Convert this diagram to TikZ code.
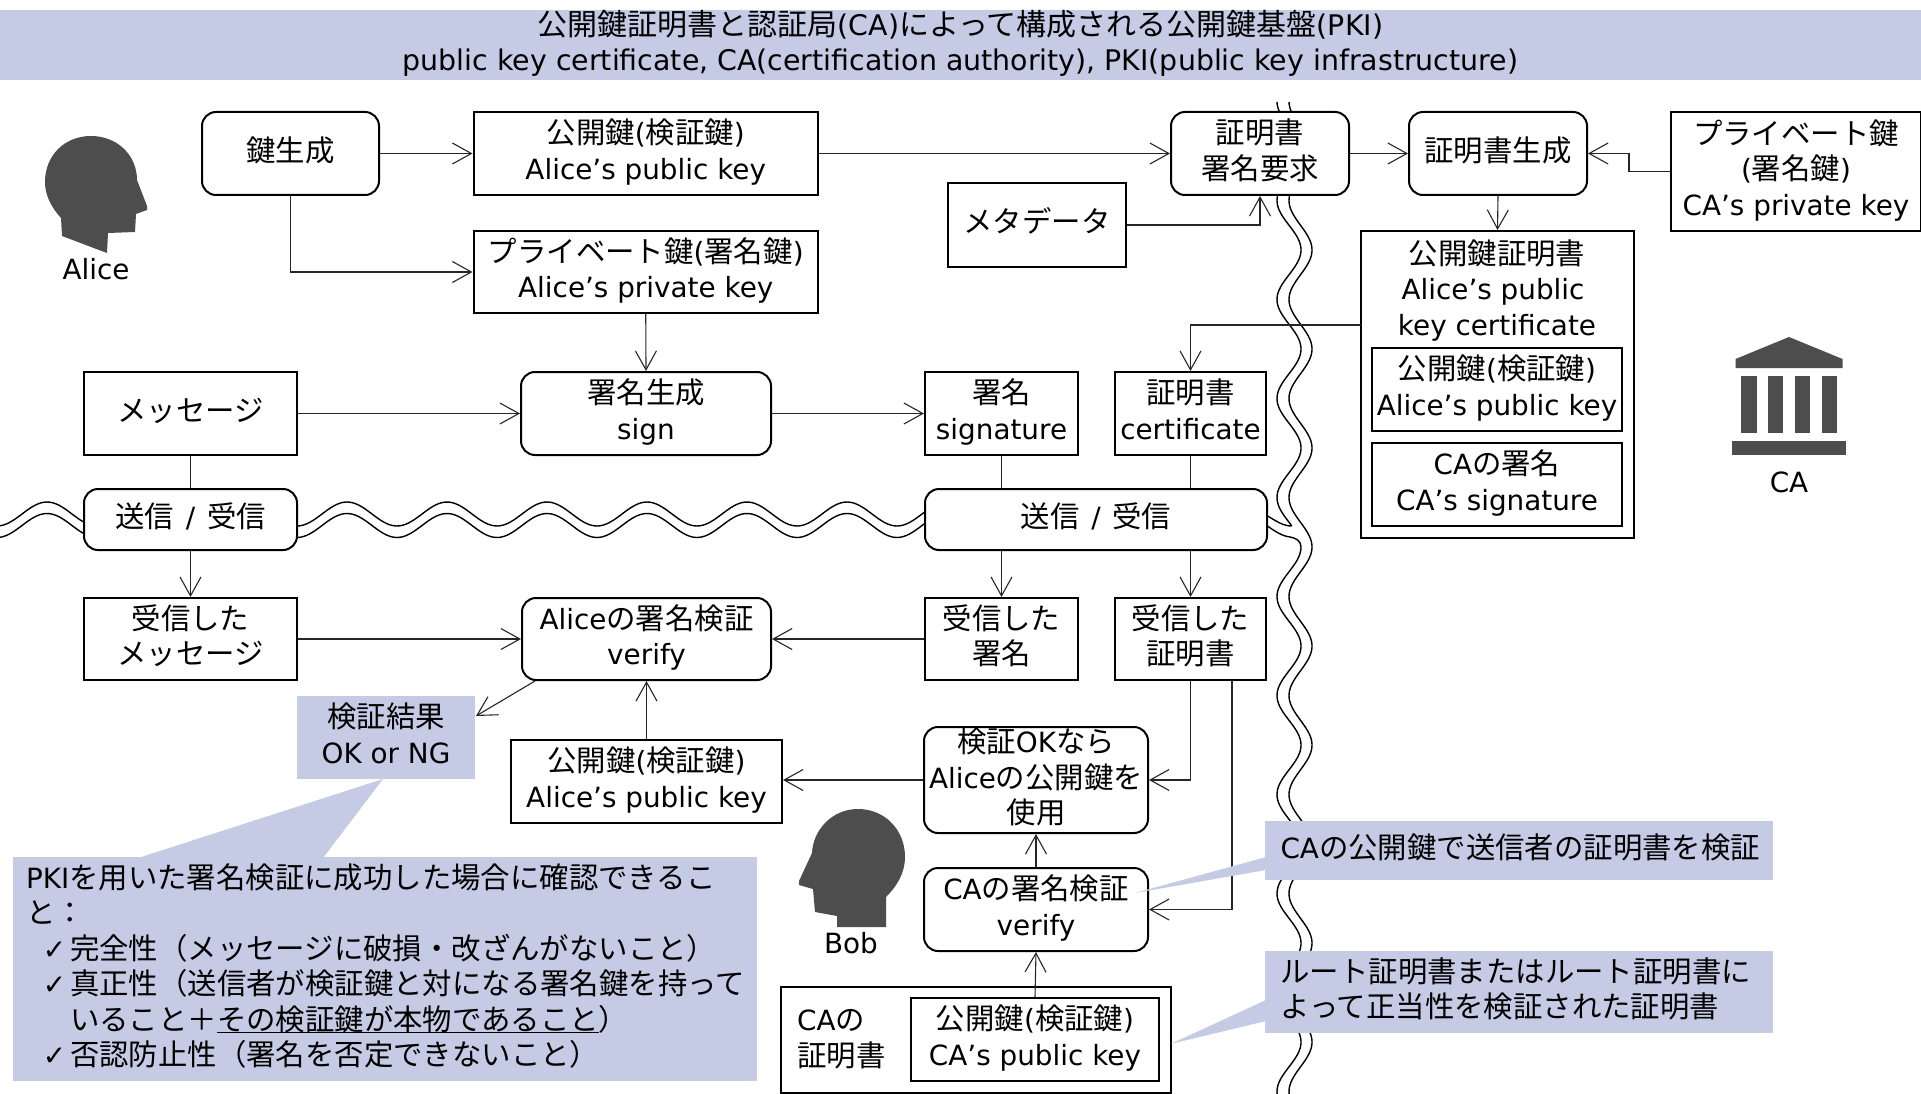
\documentclass[tikz,border=0pt]{standalone}
\usepackage{fontspec}
\setmainfont[Scale=0.947]{DejaVu Sans}
\newfontfamily\jpfont{Noto Sans CJK JP}
\usetikzlibrary{arrows.meta}
\definecolor{band}{HTML}{C6CBE5}
\definecolor{icon}{HTML}{4D4D4D}
\newcommand{\J}[1]{{\jpfont #1}}
\newcommand{\Ln}[1]{\rule[-6pt]{0pt}{28pt}\smash{#1}}
\tikzset{
  every node/.style={font=\fontsize{29.4}{35.5}\selectfont,inner sep=0pt,align=center},
  wh/.style 2 args={minimum width=#1pt,minimum height=#2pt},
  pbox/.style={draw=black,fill=white,line width=2pt,rectangle},
  rbox/.style={pbox,rounded corners=14pt},
  note/.style={fill=band,rectangle},
  conn/.style={line width=1.1pt,draw=black!85},
  arr/.style={conn,-{Straight Barb[length=19pt,width=21pt,line width=1.1pt]}},
  wave/.style={line width=1.4pt,draw=black}
}
\begin{document}
\begin{tikzpicture}[x=1pt,y=-1pt]
\useasboundingbox (0,0) rectangle (1921,1094);
% network boundaries
\draw[wave] plot[domain=0:925,samples=300] (\x,{514-12*cos(3.6*(\x-47))});
\draw[wave] plot[domain=0:925,samples=300] (\x,{525.5-12*cos(3.6*(\x-47))});
\draw[wave] plot[domain=102:526,samples=200] ({1289+12*cos(3.636*(\x-250))},\x);
\draw[wave] plot[domain=547:1094,samples=250] ({1289+12*cos(3.636*(\x-250))},\x);
\draw[wave] plot[domain=102:1094,samples=450] ({1300.5+11.5*cos(3.636*(\x-250))},\x);
\coordinate (w1a) at (1266,515); \coordinate (w1b) at (1291.5,526);
\coordinate (w2a) at (1266,525); \coordinate (w2b) at (1301,547);
\draw[wave] (w1a) .. controls (1276,521) and (1283,526) .. (w1b);
\draw[wave] (w2a) .. controls (1276,532) and (1282,536) .. (1290,537) .. controls (1296,538) and (1301,541) .. (w2b);
% title band
\node[note,wh={1921}{70},font=\fontsize{30}{35.5}\selectfont] (title) at (960.5,45) {\Ln{\J{公開鍵証明書と認証局}(CA)\J{によって構成される公開鍵基盤}(PKI)}\\\Ln{public key certificate, CA(certification authority), PKI(public key infrastructure)}};
% Alice side, top
\node[rbox,wh={177}{83}] (kg) at (290.5,153.5) {\Ln{\J{鍵生成}}};
\node[pbox,wh={344.5}{83}] (pub1) at (645.75,153.5) {\Ln{\J{公開鍵}(\J{検証鍵})}\\\Ln{Alice’s public key}};
\node[pbox,wh={344.5}{82}] (priv) at (645.75,272) {\Ln{\J{プライベート鍵}(\J{署名鍵})}\\\Ln{Alice’s private key}};
\node[pbox,wh={213}{83}] (msg) at (190.5,413.5) {\Ln{\J{メッセージ}}};
\node[rbox,wh={250}{83}] (sign) at (646,413.5) {\Ln{\J{署名生成}}\\\Ln{sign}};
\node[pbox,wh={153}{83}] (sig) at (1001.5,413.5) {\Ln{\J{署名}}\\\Ln{signature}};
\node[pbox,wh={151}{83}] (cert) at (1190.5,413.5) {\Ln{\J{証明書}}\\\Ln{certificate}};
\node[rbox,wh={213}{61}] (send1) at (190.5,519.5) {\Ln{\J{送信}\hspace{3pt} / \hspace{3pt}\J{受信}}};
\node[rbox,wh={342}{61}] (send2) at (1096,519.5) {\Ln{\J{送信}\hspace{3pt} / \hspace{3pt}\J{受信}}};
\node[pbox,wh={213}{82}] (rcvmsg) at (190.5,639) {\Ln{\J{受信した}}\\\Ln{\J{メッセージ}}};
\node[rbox,wh={249}{82}] (verify) at (646.5,639) {\Ln{Alice\J{の署名検証}}\\\Ln{verify}};
\node[pbox,wh={153}{82}] (rcvsig) at (1001.5,639) {\Ln{\J{受信した}}\\\Ln{\J{署名}}};
\node[pbox,wh={151}{82}] (rcvcert) at (1190.5,639) {\Ln{\J{受信した}}\\\Ln{\J{証明書}}};
\node[note,wh={178}{83}] (result) at (386,737.5) {\Ln{\J{検証結果}}\\\Ln{OK or NG}};
\node[pbox,wh={271}{83}] (pub2) at (646.5,781.5) {\Ln{\J{公開鍵}(\J{検証鍵})}\\\Ln{Alice’s public key}};
\node[rbox,wh={224}{106}] (ok) at (1036,780) {\Ln{\J{検証}OK\J{なら}}\\\Ln{Alice\J{の公開鍵を}}\\\Ln{\J{使用}}};
\node[rbox,wh={224}{83}] (cav) at (1036,909.5) {\Ln{CA\J{の署名検証}}\\\Ln{verify}};
\node[pbox,wh={390}{106}] (cacert) at (976,1040) {};
\node[anchor=west,align=left] (cacertl) at (797,1040.5) {\Ln{CA\J{の}}\\\Ln{\J{証明書}}};
\node[pbox,wh={248}{83}] (capub) at (1035,1039.5) {\Ln{\J{公開鍵}(\J{検証鍵})}\\\Ln{CA’s public key}};
% CA side
\node[rbox,wh={178}{83}] (csr) at (1260,153.5) {\Ln{\J{証明書}}\\\Ln{\J{署名要求}}};
\node[rbox,wh={178}{83}] (cg) at (1498,153.5) {\Ln{\J{証明書生成}}};
\node[pbox,wh={250}{119}] (capriv) at (1796,171.5) {\Ln{\J{プライベート鍵}}\\\Ln{(\J{署名鍵})}\\\Ln{CA’s private key}};
\node[pbox,wh={178}{83}] (meta) at (1037,225) {\Ln{\J{メタデータ}}};
\node[pbox,wh={273}{307}] (pkcert) at (1497.5,384.5) {};
\node (pkcertl) at (1497,291.6) {\Ln{\J{公開鍵証明書}}\\\Ln{Alice’s public\hspace{8pt}}\\\Ln{key certificate}};
\node[pbox,wh={249.5}{83}] (inpub) at (1497,389.5) {\Ln{\J{公開鍵}(\J{検証鍵})}\\\Ln{Alice’s public key}};
\node[pbox,wh={249.5}{83}] (insig) at (1497,484.5) {\Ln{CA\J{の署名}}\\\Ln{CA’s signature}};
% named free ends
\coordinate (vr) at (535,681);
\coordinate (rs) at (476,716);
\coordinate (cx) at (1232,680);
\coordinate (pkc) at (1361,325);
\coordinate (cp) at (1629,171.5);
% connectors
\draw[arr] (kg.east) -- (pub1.west);
\draw[arr] (kg.south) |- (priv.west);
\draw[arr] (priv.south) -- (sign.north);
\draw[arr] (msg.east) -- (sign.west);
\draw[arr] (sign.east) -- (sig.west);
\draw[conn] (msg.south) -- (send1.north);
\draw[arr] (send1.south) -- (rcvmsg.north);
\draw[conn] (sig.south) -- (sig.south |- send2.north);
\draw[conn] (cert.south) -- (cert.south |- send2.north);
\draw[arr] (rcvsig.north |- send2.south) -- (rcvsig.north);
\draw[arr] (rcvcert.north |- send2.south) -- (rcvcert.north);
\draw[arr] (rcvmsg.east) -- (verify.west);
\draw[arr] (rcvsig.west) -- (verify.east);
\draw[arr] (vr) -- (rs);
\draw[arr] (pub2.north) -- (verify.south);
\draw[arr] (ok.west) -- (ok.west -| pub2.east);
\draw[arr] (rcvcert.south) |- (ok.east);
\draw[arr] (cx) |- (cav.east);
\draw[arr] (cav.north) -- (ok.south);
\draw[arr] (capub.north) -- (cav.south);
\draw[arr] (pub1.east) -- (csr.west);
\draw[arr] (meta.east) -| (csr.south);
\draw[arr] (csr.east) -- (cg.west);
\draw[arr] (capriv.west) -- (cp) |- (cg.east);
\draw[arr] (cg.south) -- (pkcert.north);
\draw[arr] (pkc) -| (cert.north);
% people and building
\fill[icon] (61,218) .. controls (51,207) and (45,195) .. (45,182) .. controls (45,155) and (65,136) .. (91,136) .. controls (117,136) and (137,155) .. (137,180) -- (147,206) -- (147,210) -- (136,214) -- (135,232) -- (108,233) -- (107,253) -- (62,236) -- cycle;
\node (alice) at (96,271) {\Ln{Alice}};
\fill[icon] (886,897) .. controls (898,885) and (905,872) .. (905,857) .. controls (905,830) and (885,809) .. (858,809) .. controls (832,809) and (813,830) .. (812,853) -- (799,881) -- (799,885) -- (813,889) -- (815,912) -- (837,916) -- (837,927) -- (886,927) -- cycle;
\node (bob) at (851,945) {\Ln{Bob}};
\fill[icon] (1735.5,359) -- (1789,337) -- (1842.5,359) -- (1842.5,368) -- (1735.5,368) -- cycle;
\fill[icon] (1741,376) rectangle (1756.5,433);
\fill[icon] (1768,376) rectangle (1783,433);
\fill[icon] (1795,376) rectangle (1810,433);
\fill[icon] (1822,376) rectangle (1837,433);
\fill[icon] (1731.5,441) rectangle (1846,455);
\node (ca) at (1789,484) {\Ln{CA}};
% callouts
\fill[band] (138,858) -- (383,779) -- (323,858) -- cycle;
\node[note,wh={744.5}{224},text width=718pt,align=left] (props) at (385,969) {\Ln{PKI\J{を用いた署名検証に成功した場合に確認できるこ}}\\\Ln{\J{と：}}\\\Ln{\hspace*{17pt}\makebox[27pt][l]{✓}\J{完全性（メッセージに破損・改ざんがないこと）}}\\\Ln{\hspace*{17pt}\makebox[27pt][l]{✓}\J{真正性（送信者が検証鍵と対になる署名鍵を持って}}\\\Ln{\hspace*{44pt}\J{いること＋}\makebox[0pt][l]{\rule[-3pt]{382pt}{1.2pt}}\J{その検証鍵が本物であること）}}\\\Ln{\hspace*{17pt}\makebox[27pt][l]{✓}\J{否認防止性（署名を否定できないこと）}}};
\fill[band] (1266,857) -- (1135,893) -- (1266,870) -- cycle;
\node[note,wh={507.5}{59},text width=477pt,align=left] (n1) at (1519,850.5) {\Ln{CA\J{の公開鍵で送信者の証明書を検証}}};
\fill[band] (1266,1000) -- (1170.5,1044) -- (1266,1021) -- cycle;
\node[note,wh={507.5}{82},text width=477pt,align=left] (n2) at (1519,992) {\Ln{\J{ルート証明書またはルート証明書に}}\\\Ln{\J{よって正当性を検証された証明書}}};
\end{tikzpicture}
\end{document}
